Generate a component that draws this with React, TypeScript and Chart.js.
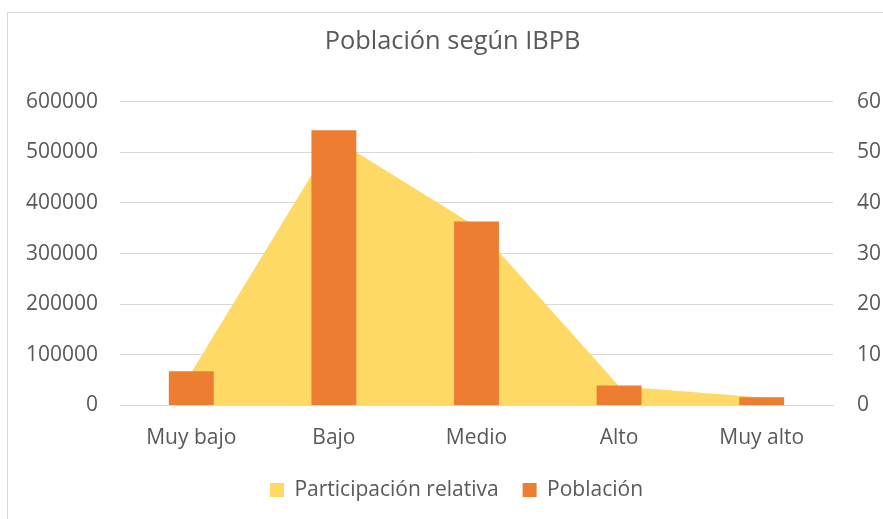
import React, { useEffect, useRef } from "react";
import { Chart, registerables } from "chart.js";

Chart.register(...registerables);

const categories = ["Muy bajo", "Bajo", "Medio", "Alto", "Muy alto"];
const poblacion = [67500, 543500, 363500, 39500, 16500];
const participacion = [6.5, 52.8, 35.3, 3.8, 1.6];
const leftTicks = [0, 100000, 200000, 300000, 400000, 500000, 600000];
const rightTicks = [0, 10, 20, 30, 40, 50, 60];

const FONT = "'Open Sans', sans-serif";
const TEXT = "#595959";
const GRID = "#D9D9D9";

const frame = {
  id: "frame",
  afterLayout(chart: any) {
    if (chart.legend) {
      chart.legend.left += 15;
      chart.legend.right += 15;
    }
    if (chart.titleBlock) {
      chart.titleBlock.left += 11;
      chart.titleBlock.right += 11;
    }
  },
  beforeDraw(chart: any) {
    const ctx = chart.ctx;
    ctx.save();
    ctx.fillStyle = "#ffffff";
    ctx.fillRect(0, 0, chart.width, chart.height);
    ctx.strokeStyle = GRID;
    ctx.lineWidth = 1;
    ctx.strokeRect(7.5, 12.5, 2000, 2000);
    ctx.restore();
  },
};

export default function App() {
  const ref = useRef<HTMLCanvasElement | null>(null);
  useEffect(() => {
    if (!ref.current) return;
    const chart = new Chart(ref.current, {
      type: "bar",
      data: {
        labels: categories,
        datasets: [
          {
            type: "bar",
            label: "Población",
            data: poblacion,
            backgroundColor: "#ED7D31",
            yAxisID: "y",
            categoryPercentage: 1,
            barPercentage: 0.315,
          } as any,
          {
            type: "line",
            label: "Participación relativa",
            data: participacion,
            backgroundColor: "#FFD966",
            borderColor: "#FFD966",
            borderWidth: 0,
            pointRadius: 0,
            fill: "origin",
            tension: 0,
            yAxisID: "y1",
          } as any,
        ],
      },
      options: {
        animation: false,
        responsive: true,
        maintainAspectRatio: false,
        layout: { padding: { left: 0, right: 0, top: 0, bottom: 8.5 } },
        plugins: {
          title: {
            display: true,
            text: "Población según IBPB",
            color: TEXT,
            font: { family: FONT, size: 25.4, weight: "normal" },
            padding: { top: 27, bottom: 44.2 },
          },
          legend: {
            position: "bottom",
            labels: {
              color: TEXT,
              font: { family: FONT, size: 21 },
              boxWidth: 14,
              boxHeight: 14,
              padding: 24,
              sort: (a: any, b: any) => b.datasetIndex - a.datasetIndex,
            },
          },
          tooltip: { enabled: false },
        },
        scales: {
          x: {
            grid: { display: false, drawTicks: false },
            border: { display: true, color: GRID, width: 1 },
            ticks: { color: TEXT, font: { family: FONT, size: 21 }, padding: 19.5, maxRotation: 0 },
            afterFit: (s: any) => { s.height = 50; },
          },
          y: {
            position: "left",
            min: 0,
            max: 600000,
            afterBuildTicks: (s: any) => { s.ticks = leftTicks.map((v) => ({ value: v })); },
            grid: { color: GRID, lineWidth: 1, drawTicks: false },
            border: { display: false },
            ticks: { color: TEXT, font: { family: FONT, size: 21 }, padding: 22, callback: (v: any) => String(v) },
            afterFit: (s: any) => { s.width = 120; },
          },
          y1: {
            position: "right",
            min: 0,
            max: 60,
            afterBuildTicks: (s: any) => { s.ticks = rightTicks.map((v) => ({ value: v })); },
            grid: { display: false, drawTicks: false },
            border: { display: false },
            ticks: { color: TEXT, font: { family: FONT, size: 21 }, padding: 24, callback: (v: any) => String(v) },
            afterFit: (s: any) => { s.width = 50; },
          },
        },
      },
      plugins: [frame],
    });
    return () => chart.destroy();
  }, []);
  return (
    <div style={{ position: "fixed", left: 0, top: 0, width: 883, height: 519, background: "#fff" }}>
      <canvas ref={ref} />
    </div>
  );
}
